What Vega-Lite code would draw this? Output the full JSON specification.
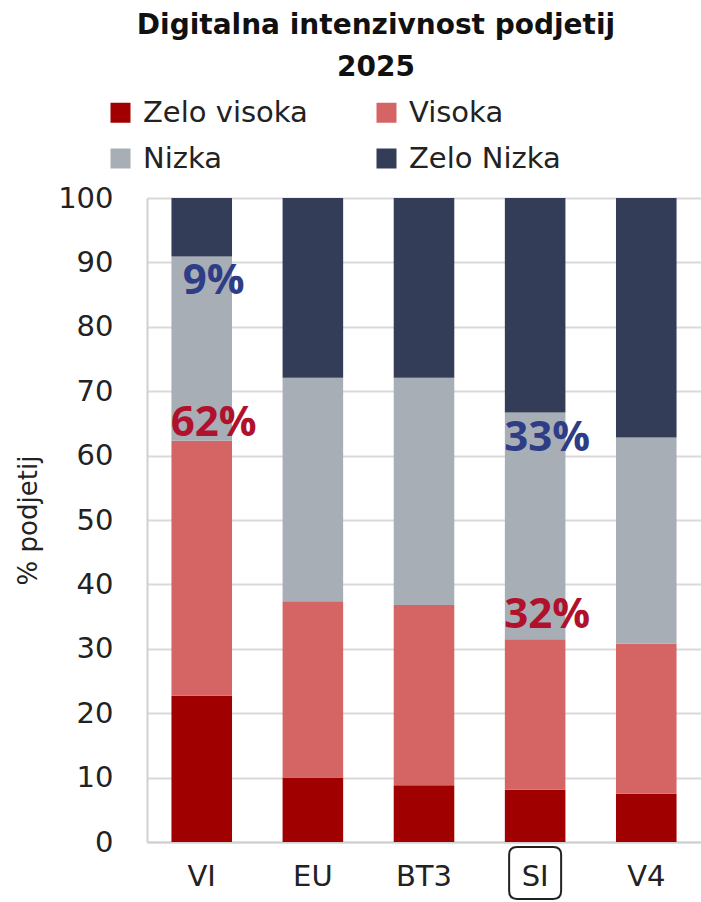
{
  "$schema": "https://vega.github.io/schema/vega-lite/v6.json",
  "width": 554,
  "height": 644,
  "autosize": {"type": "none"},
  "padding": {"left": 147, "top": 198, "right": 0, "bottom": 60},
  "background": "white",
  "title": {
    "text": ["Digitalna intenzivnost podjetij", "2025"],
    "font": "DejaVu Sans",
    "fontSize": 28,
    "fontWeight": "bold",
    "color": "#111111",
    "anchor": "middle",
    "dx": -48,
    "lineHeight": 42,
    "offset": 16
  },
  "config": {
    "view": {"stroke": null},
    "axisY": {
      "grid": true,
      "gridColor": "#D9D9D9",
      "gridWidth": 2,
      "domain": true,
      "domainColor": "#D0D0D0",
      "domainWidth": 2,
      "ticks": false,
      "labelPadding": 34,
      "labelFont": "DejaVu Sans",
      "labelFontSize": 29,
      "labelColor": "#222222",
      "titleFont": "DejaVu Sans",
      "titleFontSize": 26,
      "titleFontWeight": "normal",
      "titleColor": "#222222",
      "titlePadding": 16
    },
    "axisX": {
      "domainColor": "#D0D0D0",
      "domainWidth": 2,
      "ticks": false,
      "labelPadding": 20,
      "labelAngle": 0,
      "labelFont": "DejaVu Sans",
      "labelFontSize": 29,
      "labelColor": "#222222",
      "grid": false
    },
    "legend": {
      "orient": "none",
      "direction": "horizontal",
      "legendX": -41,
      "legendY": -100,
      "columns": 2,
      "columnPadding": 64,
      "rowPadding": 16,
      "symbolType": "square",
      "symbolSize": 400,
      "symbolStrokeWidth": 0,
      "labelOffset": 8,
      "labelFont": "DejaVu Sans",
      "labelFontSize": 29,
      "labelColor": "#222222",
      "labelLimit": 400
    }
  },
  "datasets": {
    "shares": [
      {"country": "VI", "series": "Zelo visoka", "value": 22.7},
      {"country": "VI", "series": "Visoka", "value": 39.6},
      {"country": "VI", "series": "Nizka", "value": 28.6},
      {"country": "VI", "series": "Zelo Nizka", "value": 9.1},
      {"country": "EU", "series": "Zelo visoka", "value": 10.0},
      {"country": "EU", "series": "Visoka", "value": 27.4},
      {"country": "EU", "series": "Nizka", "value": 34.7},
      {"country": "EU", "series": "Zelo Nizka", "value": 27.9},
      {"country": "BT3", "series": "Zelo visoka", "value": 8.8},
      {"country": "BT3", "series": "Visoka", "value": 28.0},
      {"country": "BT3", "series": "Nizka", "value": 35.3},
      {"country": "BT3", "series": "Zelo Nizka", "value": 27.9},
      {"country": "SI", "series": "Zelo visoka", "value": 8.1},
      {"country": "SI", "series": "Visoka", "value": 23.4},
      {"country": "SI", "series": "Nizka", "value": 35.2},
      {"country": "SI", "series": "Zelo Nizka", "value": 33.3},
      {"country": "V4", "series": "Zelo visoka", "value": 7.5},
      {"country": "V4", "series": "Visoka", "value": 23.3},
      {"country": "V4", "series": "Nizka", "value": 32.0},
      {"country": "V4", "series": "Zelo Nizka", "value": 37.2}
    ],
    "notes": [
      {"country": "VI", "kind": "nizka", "value": 87.1, "label": "9%"},
      {"country": "VI", "kind": "visoka", "value": 65.1, "label": "62%"},
      {"country": "SI", "kind": "nizka", "value": 62.8, "label": "33%"},
      {"country": "SI", "kind": "visoka", "value": 35.2, "label": "32%"}
    ],
    "box": [
      {"country": "SI", "value": -4.8}
    ]
  },
  "layer": [
    {
      "data": {"name": "shares"},
      "transform": [
        {"calculate": "indexof(['Zelo visoka', 'Visoka', 'Nizka', 'Zelo Nizka'], datum.series)", "as": "stackOrder"}
      ],
      "mark": {"type": "bar"},
      "encoding": {
        "x": {
          "field": "country",
          "type": "nominal",
          "sort": ["VI", "EU", "BT3", "SI", "V4"],
          "scale": {"paddingInner": 0.455, "paddingOuter": 0.22},
          "axis": {"title": null}
        },
        "y": {
          "field": "value",
          "type": "quantitative",
          "stack": "zero",
          "scale": {"domain": [0, 100], "nice": false, "zero": true},
          "axis": {"title": "% podjetij", "values": [0, 10, 20, 30, 40, 50, 60, 70, 80, 90, 100]}
        },
        "color": {
          "field": "series",
          "type": "nominal",
          "sort": ["Zelo visoka", "Visoka", "Nizka", "Zelo Nizka"],
          "scale": {
            "domain": ["Zelo visoka", "Visoka", "Nizka", "Zelo Nizka"],
            "range": ["#A00000", "#D56565", "#A7AEB5", "#333D58"]
          },
          "legend": {"title": null}
        },
        "order": {"field": "stackOrder", "type": "quantitative", "sort": "ascending"}
      }
    },
    {
      "data": {"name": "notes"},
      "transform": [{"filter": "datum.kind === 'nizka'"}],
      "mark": {"type": "text", "font": "Open Sans", "fontWeight": "bold", "fontSize": 42, "color": "#2E3D86", "dx": 12, "baseline": "middle", "align": "center"},
      "encoding": {
        "x": {"field": "country", "type": "nominal", "sort": ["VI", "EU", "BT3", "SI", "V4"]},
        "y": {"field": "value", "type": "quantitative"},
        "text": {"field": "label", "type": "nominal"}
      }
    },
    {
      "data": {"name": "notes"},
      "transform": [{"filter": "datum.kind === 'visoka'"}],
      "mark": {"type": "text", "font": "Open Sans", "fontWeight": "bold", "fontSize": 42, "color": "#B0112C", "dx": 12, "baseline": "middle", "align": "center"},
      "encoding": {
        "x": {"field": "country", "type": "nominal", "sort": ["VI", "EU", "BT3", "SI", "V4"]},
        "y": {"field": "value", "type": "quantitative"},
        "text": {"field": "label", "type": "nominal"}
      }
    },
    {
      "data": {"name": "box"},
      "mark": {
        "type": "point",
        "filled": false,
        "shape": "M -0.7,-1 L 0.7,-1 Q 1,-1 1,-0.7 L 1,0.7 Q 1,1 0.7,1 L -0.7,1 Q -1,1 -1,0.7 L -1,-0.7 Q -1,-1 -0.7,-1 Z",
        "size": 2704,
        "stroke": "#222222",
        "strokeWidth": 2,
        "opacity": 1
      },
      "encoding": {
        "x": {"field": "country", "type": "nominal", "sort": ["VI", "EU", "BT3", "SI", "V4"]},
        "y": {"field": "value", "type": "quantitative"}
      }
    }
  ]
}
